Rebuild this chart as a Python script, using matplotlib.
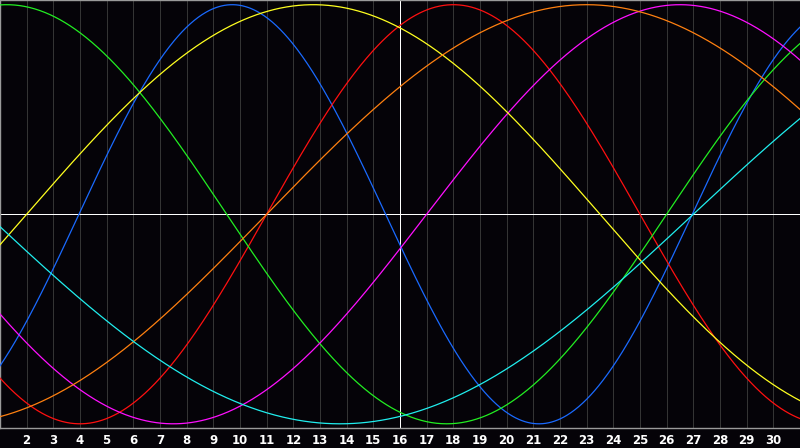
import numpy as np
import matplotlib.pyplot as plt

# biorhythm cycles: period in days and the day the curve crosses zero going up
cycles = ["Physical", "Emotional", "Intellectual", "Intuitive", "Aesthetic", "Awareness", "Spiritual"]
periods = [23, 28, 33, 38, 43, 48, 53]
rise_day = [3.96, 11.0, 26.0, 17.0, 2.0, 11.0, 27.0]
colors = ["#1a6aff", "#ff1010", "#22ee22", "#ff10ff", "#ffff20", "#ff8010", "#20eeee"]

days = list(range(1, 32))
day_labels = [str(d) for d in range(2, 31)]
today = 16

fig = plt.figure(figsize=(8, 4.48), dpi=100, facecolor="#050308")
ax = fig.add_axes([0, 20 / 448, 1, 428 / 448 - 0.5 / 448])
ax.set_facecolor("#050308")

for d in days[1:-1]:
    ax.axvline(d, color="#343434", lw=0.6, antialiased=False, zorder=1)
ax.axvline(today, color="white", lw=0.6, antialiased=False, zorder=2)
ax.axhline(0, color="white", lw=0.6, antialiased=False, zorder=2)

t = np.linspace(days[0], days[-1], 800)
for p, r, c in zip(periods, rise_day, colors):
    ax.plot(t, np.sin(2 * np.pi * (t - r) / p), color=c, lw=0.9, zorder=3)

ax.set_xlim(days[0], days[-1])
ax.set_ylim(-1.02, 1.02)
ax.set_xticks(range(2, 31))
ax.set_xticklabels(day_labels, color="white", fontsize=8.5, fontweight="bold")
ax.set_yticks([])
ax.tick_params(axis="x", length=0, pad=4)
for s in ax.spines.values():
    s.set_color("#9a9a9a")
    s.set_linewidth(1)
ax.spines["right"].set_visible(False)

fig.savefig("out.png", dpi=100, facecolor=fig.get_facecolor())
